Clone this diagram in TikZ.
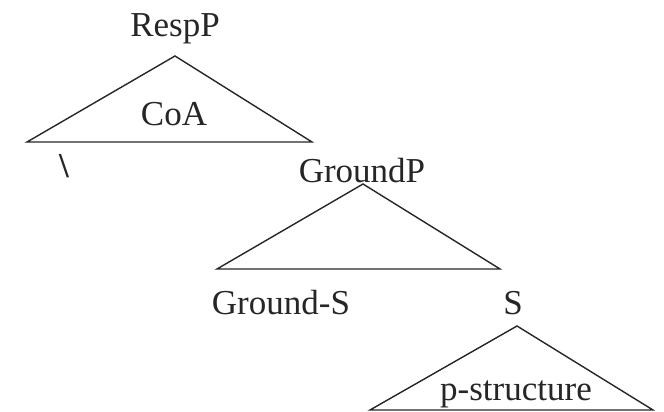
\documentclass[tikz,border=0pt]{standalone}
\usepackage{fontspec}
\setmainfont{Liberation Serif}
\begin{document}
\begin{tikzpicture}[x=1pt,y=-1pt,
  lbl/.style={anchor=base,inner sep=0pt,font=\fontsize{35}{40}\selectfont,text=black!85},
  tri/.style={draw=black!85,line width=1.4pt,line join=miter}]
\useasboundingbox (0,0) rectangle (664,412);
% labels
\node[lbl] (resp) at (175,37) {RespP};
\node[lbl] (coa) at (174,125) {CoA};
\node[lbl] (ground) at (362,182) {GroundP};
\node[lbl] (gs) at (281,314) {Ground-S};
\node[lbl] (s) at (513,314) {S};
\node[lbl] (ps) at (516,400) {p-structure};
\node[lbl,font=\fontsize{35}{40}\selectfont\bfseries] (bs) at (64,177) {\textbackslash};
% triangle corners
\coordinate (r0) at (175,56);
\coordinate (r1) at (27,142);
\coordinate (r2) at (312,142);
\coordinate (g0) at (363,184);
\coordinate (g1) at (217,269);
\coordinate (g2) at (500,269);
\coordinate (s0) at (517,326);
\coordinate (s1) at (370,410);
\coordinate (s2) at (653,410);
% triangles
\draw[tri] (r0) -- (r1) -- (r2) -- cycle;
\draw[tri] (g0) -- (g1) -- (g2) -- cycle;
\draw[tri] (s0) -- (s1) -- (s2) -- cycle;
\end{tikzpicture}
\end{document}
